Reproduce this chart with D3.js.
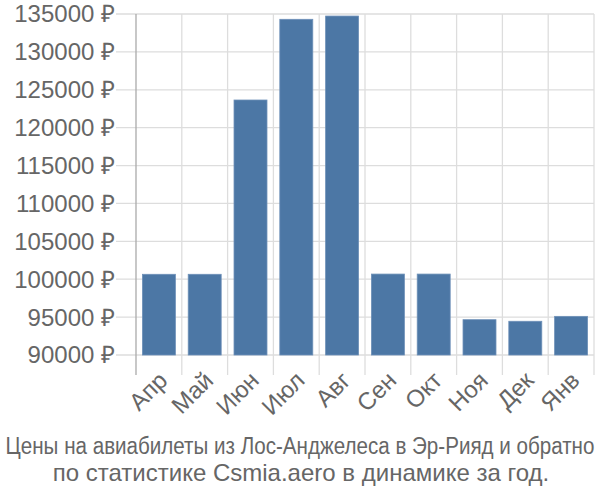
<!DOCTYPE html>
<html><head><meta charset="utf-8">
<script src="https://cdn.jsdelivr.net/npm/d3@7"></script>
<style>body{margin:0;background:#fff}svg{display:block}</style>
</head><body>
<svg id="chart" width="600" height="500"></svg>
<script>
const months = ["Апр","Май","Июн","Июл","Авг","Сен","Окт","Ноя","Дек","Янв"];
const prices = [100650, 100650, 123650, 134300, 134730, 100680, 100680, 94660, 94450, 95100];
const yTicks = [90000, 95000, 100000, 105000, 110000, 115000, 120000, 125000, 130000, 135000];
const titleLines = ["Цены на авиабилеты из Лос-Анджелеса в Эр-Рияд и обратно", "по статистике Csmia.aero в динамике за год."];

(function () {
const svg = d3.select("#chart");
const mLeft = 136, mRight = 594, mTop = 14, mBottom = 355;
const x = d3.scaleBand().domain(months).range([mLeft, mRight]).paddingInner(0.28).paddingOuter(0.14);
const y = d3.scaleLinear().domain([90000, 135000]).range([mBottom, mTop]);
const grid = "#dddddd", txt = "#666666";
const font = "'Liberation Sans', Arial, sans-serif";

svg.append("g").selectAll("line").data(yTicks).join("line")
  .attr("x1", mLeft - 20).attr("x2", mRight)
  .attr("y1", d => y(d)).attr("y2", d => y(d))
  .attr("stroke", grid).attr("stroke-width", 1.3);
const bounds = months.map(m => x(m) - x.step() * x.paddingOuter()).concat([mRight]);
svg.append("g").selectAll("line").data(bounds.slice(1)).join("line")
  .attr("x1", d => d).attr("x2", d => d)
  .attr("y1", mTop).attr("y2", mBottom + 20)
  .attr("stroke", grid).attr("stroke-width", 1.3);
svg.append("line").attr("x1", mLeft).attr("x2", mLeft).attr("y1", mTop).attr("y2", mBottom + 20)
  .attr("stroke", "#aaaaaa").attr("stroke-width", 1.3);

svg.append("g").selectAll("rect").data(prices).join("rect")
  .attr("x", (d, i) => x(months[i])).attr("width", x.bandwidth())
  .attr("y", d => y(d)).attr("height", d => y(90000) - y(d))
  .attr("fill", "#4c77a5").attr("stroke", "#6d90b8").attr("stroke-width", 0.8);

svg.append("g").selectAll("text").data(yTicks).join("text")
  .attr("x", 115).attr("y", d => y(d)).attr("dy", "0.35em")
  .attr("text-anchor", "end").attr("fill", txt)
  .style("font", "24px " + font)
  .text(d => d + " ₽");

svg.append("g").selectAll("text").data(months).join("text")
  .attr("transform", d => `translate(${x(d) + x.bandwidth() / 2 + 4},${mBottom + 21}) rotate(-45)`)
  .attr("text-anchor", "end").attr("dy", "0.35em").attr("fill", txt)
  .style("font", "24px " + font)
  .text(d => d);

const t = svg.append("g").attr("fill", txt);
t.append("text").attr("transform", "translate(300,454) scale(1,1.16)")
  .attr("text-anchor", "middle").style("font", "20.6px " + font).text(titleLines[0]);
t.append("text").attr("x", 301).attr("y", 481).attr("text-anchor", "middle")
  .style("font", "24px " + font).text(titleLines[1]);
})();
</script>
</body></html>
